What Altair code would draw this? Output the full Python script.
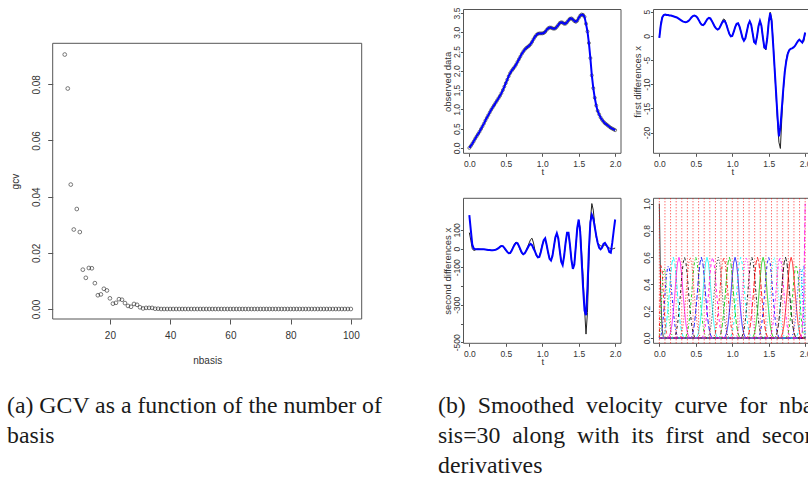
import altair as alt
import pandas as pd

# ---------------- data ----------------
nbasis = list(range(5, 101))
gcv = [0.0906, 0.0785, 0.0443, 0.0283, 0.0356, 0.0274, 0.0140, 0.0111, 0.0146, 0.0145,
       0.0092, 0.0049, 0.0052, 0.0072, 0.0066, 0.0038, 0.0019, 0.0022, 0.0035, 0.0033,
       0.0021, 0.0011, 0.0008, 0.0018, 0.0015, 0.0006, 0.0002, 0.0004, 0.0004, 0.0004,
       0.0001, 0.0001, 0.0000, 0.0000, 0.0000, 0.0000, 0.0000, 0.0000, 0.0000, 0.0000,
       0.0000, 0.0000, 0.0000, 0.0000, 0.0000, 0.0000, 0.0000, 0.0000, 0.0000, 0.0000,
       0.0000, 0.0000, 0.0000, 0.0000, 0.0000, 0.0000, 0.0000, 0.0000, 0.0000, 0.0000,
       0.0000, 0.0000, 0.0000, 0.0000, 0.0000, 0.0000, 0.0000, 0.0000, 0.0000, 0.0000,
       0.0000, 0.0000, 0.0000, 0.0000, 0.0000, 0.0000, 0.0000, 0.0000, 0.0000, 0.0000,
       0.0000, 0.0000, 0.0000, 0.0000, 0.0000, 0.0000, 0.0000, 0.0000, 0.0000, 0.0000,
       0.0000, 0.0000, 0.0000, 0.0000, 0.0000, 0.0000]

t_grid = [round(0.02 * i, 2) for i in range(101)]

velocity = [0.00, 0.05, 0.11, 0.17, 0.24, 0.30, 0.36, 0.42, 0.49, 0.56,
            0.63, 0.71, 0.78, 0.85, 0.92, 0.99, 1.05, 1.11, 1.17, 1.23,
            1.29, 1.35, 1.42, 1.50, 1.59, 1.68, 1.77, 1.86, 1.94, 2.00,
            2.05, 2.10, 2.16, 2.23, 2.30, 2.37, 2.44, 2.50, 2.55, 2.59,
            2.62, 2.65, 2.69, 2.75, 2.82, 2.88, 2.93, 2.96, 2.97, 2.97,
            2.97, 2.98, 3.01, 3.06, 3.10, 3.12, 3.12, 3.10, 3.09, 3.10,
            3.14, 3.19, 3.24, 3.26, 3.25, 3.22, 3.22, 3.26, 3.31, 3.35,
            3.36, 3.33, 3.29, 3.27, 3.30, 3.37, 3.43, 3.46, 3.45, 3.40,
            3.22, 3.02, 2.72, 2.33, 1.88, 1.55, 1.30, 1.10, 0.96, 0.87,
            0.79, 0.73, 0.68, 0.64, 0.61, 0.58, 0.55, 0.52, 0.50, 0.48,
            0.46]

d1_smooth = [-0.4, 2.2, 3.8, 4.3, 4.4, 4.3, 4.3, 4.2, 4.2, 4.1,
             4.0, 3.9, 3.8, 3.6, 3.4, 3.2, 3.0, 2.9, 2.8, 2.9,
             3.1, 3.4, 3.8, 4.1, 4.2, 4.1, 3.8, 3.3, 2.7, 2.3,
             2.2, 2.5, 3.0, 3.5, 3.7, 3.6, 3.1, 2.5, 1.9, 1.5,
             1.3, 1.5, 2.1, 2.7, 3.1, 3.0, 2.3, 1.3, 0.4, -0.1,
             0.0, 0.8, 1.8, 2.5, 2.6, 1.9, 0.8, -0.4, -1.0, -0.5,
             0.9, 2.3, 3.0, 2.3, 0.5, -1.3, -1.6, -0.1, 2.0, 3.1,
             2.1, -0.3, -2.4, -2.6, -0.5, 2.8, 4.7, 3.0, -1.5, -6.5,
             -11.5, -16.5, -20.8, -19.0, -15.0, -11.0, -7.5, -5.3, -3.8, -3.0,
             -2.7, -2.6, -2.4, -2.1, -1.6, -1.1, -0.8, -1.1, -1.4, -0.7,
             0.7]

d1_data = [-0.3, 2.6, 3.8, 4.3, 4.4, 4.3, 4.3, 4.2, 4.2, 4.1,
           4.0, 3.9, 3.8, 3.6, 3.4, 3.2, 3.0, 2.9, 2.8, 2.9,
           3.1, 3.4, 3.8, 4.1, 4.2, 4.1, 3.8, 3.3, 2.7, 2.3,
           2.2, 2.5, 3.0, 3.5, 3.7, 3.6, 3.1, 2.5, 1.9, 1.5,
           1.3, 1.5, 2.1, 2.9, 3.5, 3.3, 2.4, 1.3, 0.4, -0.1,
           0.0, 0.8, 1.8, 2.5, 2.6, 1.9, 0.8, -0.4, -1.0, -0.5,
           0.9, 2.3, 3.0, 2.3, 0.5, -1.3, -1.6, -0.1, 2.0, 3.1,
           2.1, -0.3, -2.6, -2.9, -0.5, 2.9, 4.9, 3.6, -1.0, -6.5,
           -12.0, -17.5, -22.0, -23.3, -17.0, -11.5, -7.5, -5.0, -3.5, -3.0,
           -2.7, -2.6, -2.4, -2.1, -1.6, -1.1, -0.8, -1.1, -1.4, -1.2,
           0.6]

d2_smooth = [178, 100, 22, 0, -2, -3, -3, -3, -3, -4,
             -4, -5, -6, -7, -8, -9, -9, -8, -6, -3,
             2, 9, 14, 13, 4, -7, -18, -25, -24, -12,
             5, 20, 30, 29, 14, -4, -22, -30, -25, -12,
             3, 18, 25, 18, 0, -15, -35, -47, -45, -20,
             15, 45, 55, 20, -20, -55, -64, -40, 10, 60,
             82, 55, -10, -70, -88, -40, 30, 85, 85, 20,
             -60, -108, -85, 10, 110, 155, 90, -60, -210, -330,
             -355, -210, 0, 140, 180, 160, 115, 70, 31, 5,
             -4, 5, 25, 30, 18, 5, -18, -22, 30, 95,
             155]

d2_data = [85, 45, 0, -10, -8, -3, -2, -3, -4, -4,
           -5, -5, -6, -8, -9, -10, -10, -8, -5, -1,
           4, 11, 16, 12, 2, -10, -20, -26, -22, -8,
           8, 24, 35, 30, 10, -10, -26, -32, -24, -8,
           10, 30, 48, 55, 30, -10, -38, -48, -40, -12,
           20, 45, 52, 18, -22, -52, -60, -35, 12, 58,
           76, 50, -12, -66, -82, -38, 28, 80, 80, 18,
           -58, -100, -80, 8, 105, 150, 110, -20, -150, -320,
           -456, -340, -70, 150, 240, 205, 125, 60, 30, 20,
           15, 12, 15, 20, 15, 8, 3, 0, -2, 0,
           3]

knots = [0.0, 0.0769, 0.1538, 0.2308, 0.3077, 0.3846, 0.4615, 0.5385, 0.6154,
         0.6923, 0.7692, 0.8462, 0.9231, 1.0, 1.0769, 1.1538, 1.2308, 1.3077,
         1.3846, 1.4615, 1.5385, 1.6154, 1.6923, 1.7692, 1.8462, 1.9231, 2.0]

# basis-function heights at quarter-knot steps
prof_1 = [1.00, 0.32, 0.06, 0.00, 0.00]
prof_2 = [0.00, 0.54, 0.51, 0.30, 0.13, 0.04, 0.01, 0.00, 0.00]
prof_3 = [0.00, 0.13, 0.37, 0.51, 0.51, 0.40, 0.26, 0.13, 0.06, 0.02, 0.00, 0.00, 0.00]
prof_4 = [0.00, 0.01, 0.06, 0.17, 0.32, 0.46, 0.53, 0.53, 0.44, 0.32, 0.20, 0.10,
          0.04, 0.01, 0.00, 0.00, 0.00]
prof_mid = [0.00, 0.00, 0.00, 0.01, 0.04, 0.10, 0.20, 0.32, 0.46, 0.56, 0.60, 0.56,
            0.46, 0.32, 0.20, 0.10, 0.04, 0.01, 0.00, 0.00, 0.00]

r_cols = ["#000000", "#FF0000", "#00CD00", "#0000FF", "#00FFFF", "#FF00FF"]
r_dash = [[1, 0], [3, 3], [1, 2], [1, 2, 3, 2], [5, 2]]

for arr in (velocity, d1_smooth, d1_data, d2_smooth, d2_data):
    assert len(arr) == 101, len(arr)
assert len(gcv) == len(nbasis)

# ---------------- tables ----------------
dfA = pd.DataFrame({"nbasis": nbasis, "gcv": gcv})
dfT = pd.DataFrame({"t": t_grid, "v": velocity, "d1s": d1_smooth, "d1d": d1_data,
                    "d2s": d2_smooth, "d2d": d2_data})
dfK = pd.DataFrame({"knot": knots})


def quarter_positions(k0, nint):
    pos = []
    for k in range(k0, k0 + nint):
        a, b = knots[k], knots[k + 1]
        for f in (0.0, 0.25, 0.5, 0.75):
            pos.append(a + (b - a) * f)
    pos.append(knots[k0 + nint])
    return pos


rows = []
nK = len(knots) - 1  # 26 intervals
for j in range(1, 31):
    if j <= 4:
        prof = [prof_1, prof_2, prof_3, prof_4][j - 1]
        k0, nint = 0, j
    elif j >= 27:
        prof = list(reversed([prof_1, prof_2, prof_3, prof_4][30 - j]))
        nint = 31 - j
        k0 = nK - nint
    else:
        prof = prof_mid
        k0, nint = j - 5, 5
    pos = quarter_positions(k0, nint)
    pts = list(zip(pos, prof))
    if pos[0] > 0:
        pts = [(0.0, 0.0)] + pts
    if pos[-1] < 2.0:
        pts = pts + [(2.0, 0.0)]
    for tt, vv in pts:
        rows.append({"basis": j, "t": tt, "b": vv})
dfE = pd.DataFrame(rows)
ids = list(range(1, 31))
col_range = [r_cols[(j - 1) % 6] for j in ids]
dash_range = [r_dash[(j - 1) % 5] for j in ids]

# ---------------- layout ----------------
W, H = 808, 480
SANS = "Liberation Sans"
BOX = "#555555"
LAB = "#333333"
one = alt.Data(values=[{}])

A_x, A_y = [52.7, 361.7], [319.0, 43.3]
A_xd, A_yd = [1.0, 103.6], [-0.00356, 0.0946]
C1, C2 = [463.5, 621.0], [653.5, 811.0]
R1, R2 = [153.3, 9.5], [343.3, 198.3]
T_dom = [-0.08, 2.08]
B_yd = [-0.14, 3.59]
C_yd = [-24.3, 5.45]
D_yd = [-505, 268]
E_yd = [-0.04, 1.04]


def sc(dom, rng):
    return alt.Scale(domain=dom, range=rng, nice=False, zero=False)


def xaxis(values, box_bottom, tick, pad, fs, fmt=None, expr=None, title=None,
          tx=0, ty=0, tfs=10):
    kw = dict(values=values, orient="bottom", offset=box_bottom - H, domain=False,
              grid=False, ticks=True, tickSize=tick, tickColor=BOX, tickWidth=1,
              labelPadding=pad, labelFont=SANS, labelFontSize=fs, labelColor=LAB,
              labelBaseline="middle", labelAlign="center", labelAngle=0,
              labelFlush=False, labelOverlap=False, title=title)
    if fmt:
        kw["format"] = fmt
    if expr:
        kw["labelExpr"] = expr
    if title:
        kw.update(titleX=tx, titleY=ty, titleFont=SANS, titleFontSize=tfs,
                  titleFontWeight="normal", titleColor=LAB, titleAlign="center",
                  titleBaseline="middle", titleAngle=0)
    return alt.Axis(**kw)


def yaxis(values, box_left, tick, pad, fs, fmt=None, expr=None, title=None,
          tx=0, ty=0, tfs=10):
    kw = dict(values=values, orient="left", offset=-box_left, domain=False,
              grid=False, ticks=True, tickSize=tick, tickColor=BOX, tickWidth=1,
              labelPadding=pad, labelFont=SANS, labelFontSize=fs, labelColor=LAB,
              labelBaseline="middle", labelAlign="center", labelAngle=270,
              labelFlush=False, labelOverlap=False, title=title)
    if fmt:
        kw["format"] = fmt
    if expr:
        kw["labelExpr"] = expr
    if title:
        kw.update(titleX=tx, titleY=ty, titleFont=SANS, titleFontSize=tfs,
                  titleFontWeight="normal", titleColor=LAB, titleAlign="center",
                  titleBaseline="middle", titleAngle=270)
    return alt.Axis(**kw)


def box(xd, xr, yd, yr, xax, yax):
    return alt.Chart(one).mark_rect(fill="transparent", stroke=BOX, strokeWidth=1).encode(
        x=alt.X(datum=xd[0], type="quantitative", scale=sc(xd, xr), axis=xax),
        x2=alt.X2(datum=xd[1]),
        y=alt.Y(datum=yd[0], type="quantitative", scale=sc(yd, yr), axis=yax),
        y2=alt.Y2(datum=yd[1]),
    )


layers = []

# ---- panel (a): GCV ----
layers.append(box(A_xd, A_x, A_yd, A_y,
                  xaxis([20, 40, 60, 80, 100], A_y[0], 5, 11.7, 10, fmt="d",
                        title="nbasis", tx=(A_x[0] + A_x[1]) / 2, ty=41, tfs=10),
                  yaxis([0, 0.02, 0.04, 0.06, 0.08], A_x[0], 5, 11.7, 10, fmt=".2f",
                        title="gcv", tx=15 - A_x[0], ty=(A_y[0] + A_y[1]) / 2, tfs=10)))
layers.append(alt.Chart(dfA).mark_point(shape="circle", filled=False, size=14,
                                        strokeWidth=0.8, color="#111111").encode(
    x=alt.X("nbasis:Q", scale=sc(A_xd, A_x), axis=None),
    y=alt.Y("gcv:Q", scale=sc(A_yd, A_y), axis=None)))

tvals = [0, 0.5, 1, 1.5, 2]
LFS, TFS = 8.5, 9.5
TY = 18.5

# ---- observed data ----
layers.append(box(T_dom, C1, B_yd, R1,
                  xaxis(tvals, R1[0], 3, 7, LFS, fmt=".1f", title="t",
                        tx=(C1[0] + C1[1]) / 2, ty=TY, tfs=TFS),
                  yaxis([0, 0.5, 1, 1.5, 2, 2.5, 3, 3.5], C1[0], 3, 4, LFS, fmt=".1f",
                        title="observed data", tx=-16, ty=(R1[0] + R1[1]) / 2, tfs=TFS)))
layers.append(alt.Chart(dfT).mark_point(shape="circle", filled=False, size=9,
                                        strokeWidth=0.8, color="#111111").encode(
    x=alt.X("t:Q", scale=sc(T_dom, C1), axis=None),
    y=alt.Y("v:Q", scale=sc(B_yd, R1), axis=None)))
layers.append(alt.Chart(dfT).mark_line(color="#0000FF", strokeWidth=2).encode(
    x=alt.X("t:Q", scale=sc(T_dom, C1), axis=None),
    y=alt.Y("v:Q", scale=sc(B_yd, R1), axis=None)))

# ---- first differences ----
layers.append(box(T_dom, C2, C_yd, R1,
                  xaxis(tvals, R1[0], 3, 7, LFS, fmt=".1f", title="t",
                        tx=(C2[0] + C2[1]) / 2, ty=TY, tfs=TFS),
                  yaxis([-20, -15, -10, -5, 0, 5], C2[0], 3, 4, LFS, expr="'' + datum.value",
                        title="first differences x", tx=-16, ty=(R1[0] + R1[1]) / 2, tfs=TFS)))
layers.append(alt.Chart(dfT).mark_line(color="#222222", strokeWidth=1).encode(
    x=alt.X("t:Q", scale=sc(T_dom, C2), axis=None),
    y=alt.Y("d1d:Q", scale=sc(C_yd, R1), axis=None)))
layers.append(alt.Chart(dfT).mark_line(color="#0000FF", strokeWidth=2).encode(
    x=alt.X("t:Q", scale=sc(T_dom, C2), axis=None),
    y=alt.Y("d1s:Q", scale=sc(C_yd, R1), axis=None)))

# ---- second differences ----
layers.append(box(T_dom, C1, D_yd, R2,
                  xaxis(tvals, R2[0], 3, 7, LFS, fmt=".1f", title="t",
                        tx=(C1[0] + C1[1]) / 2, ty=TY, tfs=TFS),
                  yaxis([100, 0, -100, -200, -300, -400, -500], C1[0], 3, 4, LFS,
                        expr="datum.value == -200 || datum.value == -400 ? '' : '' + datum.value",
                        title="second differences x", tx=-16, ty=(R2[0] + R2[1]) / 2, tfs=TFS)))
layers.append(alt.Chart(dfT).mark_line(color="#222222", strokeWidth=1).encode(
    x=alt.X("t:Q", scale=sc(T_dom, C1), axis=None),
    y=alt.Y("d2d:Q", scale=sc(D_yd, R2), axis=None)))
layers.append(alt.Chart(dfT).mark_line(color="#0000FF", strokeWidth=2).encode(
    x=alt.X("t:Q", scale=sc(T_dom, C1), axis=None),
    y=alt.Y("d2s:Q", scale=sc(D_yd, R2), axis=None)))

# ---- basis functions ----
layers.append(box(T_dom, C2, E_yd, R2,
                  xaxis(tvals, R2[0], 3, 7, LFS, fmt=".1f"),
                  yaxis([0, 0.2, 0.4, 0.6, 0.8, 1.0], C2[0], 3, 4, LFS, fmt=".1f")))
layers.append(alt.Chart(dfE).mark_line(strokeWidth=1, opacity=0.85).encode(
    x=alt.X("t:Q", scale=sc(T_dom, C2), axis=None),
    y=alt.Y("b:Q", scale=sc(E_yd, R2), axis=None),
    color=alt.Color("basis:N", scale=alt.Scale(domain=ids, range=col_range), legend=None),
    strokeDash=alt.StrokeDash("basis:N", scale=alt.Scale(domain=ids, range=dash_range),
                              legend=None)))
layers.append(alt.Chart(dfK).mark_rule(color="#FF0000", strokeDash=[1, 2], strokeWidth=1,
                                       opacity=0.8).encode(
    x=alt.X("knot:Q", scale=sc(T_dom, C2), axis=None),
    y=alt.Y(datum=E_yd[0], type="quantitative", scale=sc(E_yd, R2), axis=None),
    y2=alt.Y2(datum=E_yd[1])))

# ---- captions ----
SP = " \u2005"


def caption(txt, x, y):
    return alt.Chart(one).mark_text(text=txt, align="left", baseline="alphabetic",
                                    font="Liberation Serif", fontSize=23.8,
                                    color="#1a1a1a").encode(x=alt.value(x), y=alt.value(y))


layers.append(caption("(a) GCV as a function of the number of", 7, 412.5))
layers.append(caption("basis", 7, 442.5))
layers.append(caption(SP.join(["(b)", "Smoothed", "velocity", "curve", "for", "nba-"]), 438, 412.5))
layers.append(caption(SP.join(["sis=30", "along", "with", "its", "first", "and", "second"]), 438, 442.5))
layers.append(caption("derivatives", 438, 472.5))

chart = alt.layer(*layers).resolve_scale(
    x="independent", y="independent", color="independent", strokeDash="independent"
).properties(
    width=W, height=H, autosize=alt.AutoSizeParams(type="none"), padding=0,
    background="white"
).configure_view(stroke=None)

chart.save("out.html", embed_options={"renderer": "svg", "actions": False})
